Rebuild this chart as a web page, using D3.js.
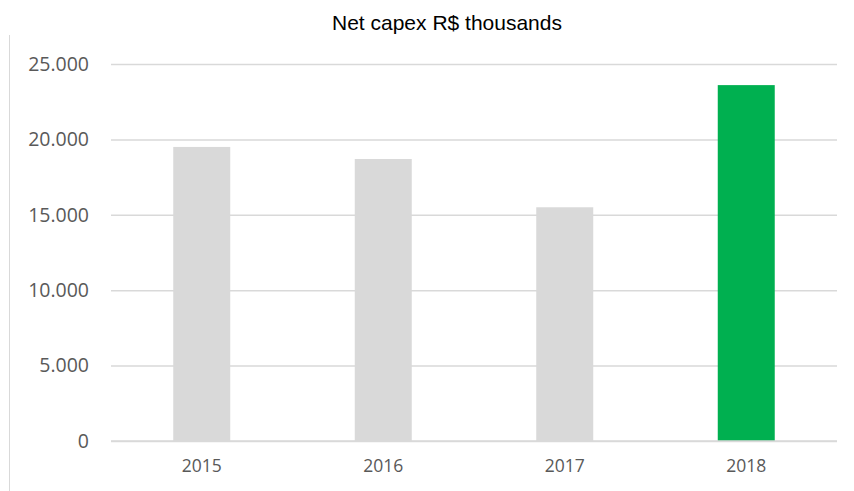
<!DOCTYPE html>
<html><head><meta charset="utf-8">
<script src="https://cdn.jsdelivr.net/npm/d3@7"></script>
<style>body{margin:0;background:#fff}</style>
</head><body>
<svg id="c" width="854" height="491"></svg>
<script>
const categories = ["2015","2016","2017","2018"];
const values = [19500, 18700, 15500, 23600];
const barColors = ["#d9d9d9","#d9d9d9","#d9d9d9","#00b050"];
const yTicks = [0,5000,10000,15000,20000,25000];
const title = "Net capex R$ thousands";

const svg = d3.select("#c");
const x = d3.scaleBand().domain(categories).range([111,837]).paddingInner(0.686).paddingOuter(0.343);
const y = d3.scaleLinear().domain([0,25000]).range([441,64]);
const fmt = v => d3.format(",")(v).replace(/,/g,".");

svg.append("line").attr("x1",9.5).attr("x2",9.5).attr("y1",35).attr("y2",491).attr("stroke","#d9d9d9");

svg.append("text").attr("x",447).attr("y",30).attr("text-anchor","middle")
  .attr("font-family","Liberation Sans, Arial, sans-serif").attr("font-size",21).attr("fill","#000").text(title);

const yAxis = svg.append("g").attr("transform","translate(111,0)")
  .call(d3.axisLeft(y).tickValues(yTicks).tickSize(-726).tickFormat(fmt).tickPadding(22));
yAxis.select(".domain").remove();
yAxis.selectAll("line").attr("stroke","#d9d9d9").attr("stroke-width",1.5);
yAxis.selectAll("text").attr("font-family","Open Sans, sans-serif").attr("font-size",19.5).attr("fill","#595959");

svg.selectAll("rect.bar").data(categories).enter().append("rect").attr("class","bar")
  .attr("x",d=>x(d)).attr("width",x.bandwidth())
  .attr("y",(d,i)=>y(values[i])).attr("height",(d,i)=>y(0)-y(values[i]))
  .attr("fill",(d,i)=>barColors[i]);

const xAxis = svg.append("g").attr("transform","translate(0,441)")
  .call(d3.axisBottom(x).tickSize(0).tickPadding(19));
xAxis.select(".domain").remove();
xAxis.selectAll("text").attr("font-family","Open Sans, sans-serif").attr("font-size",17.5).attr("fill","#595959");
svg.append("line").attr("x1",111).attr("x2",837).attr("y1",y(0)).attr("y2",y(0)).attr("stroke","#d9d9d9").attr("stroke-width",1.5);
</script>
</body></html>
